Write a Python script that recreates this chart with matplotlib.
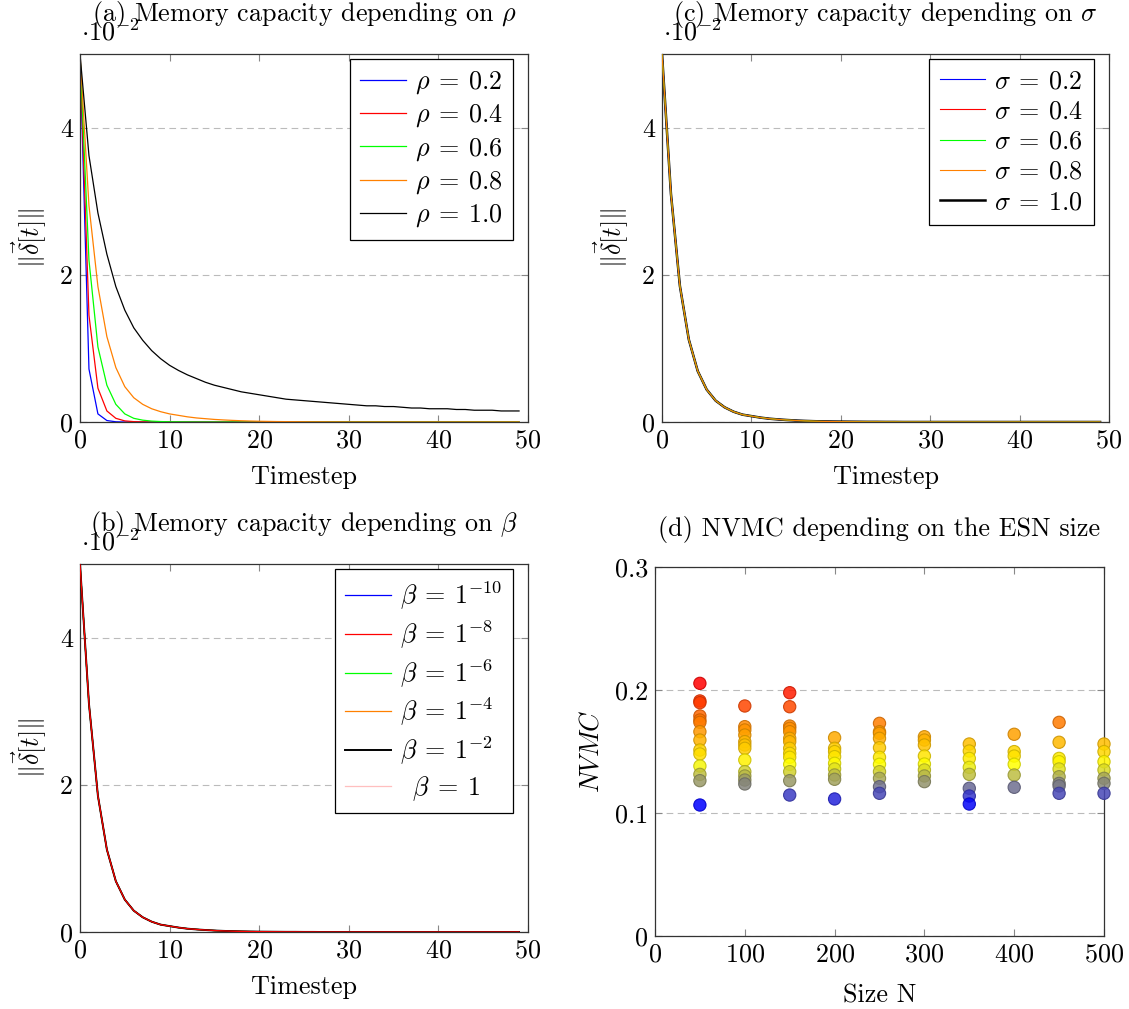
import matplotlib
matplotlib.use("Agg")
import matplotlib.pyplot as plt
import numpy as np
from matplotlib.colors import LinearSegmentedColormap

# ---------------- data ----------------
timesteps = list(range(50))

rho_02 = [0.05, 0.0072, 0.0011, 0.0002, 0.00003, 0.0, 0.0, 0.0, 0.0, 0.0,
          0.0, 0.0, 0.0, 0.0, 0.0, 0.0, 0.0, 0.0, 0.0, 0.0,
          0.0, 0.0, 0.0, 0.0, 0.0, 0.0, 0.0, 0.0, 0.0, 0.0,
          0.0, 0.0, 0.0, 0.0, 0.0, 0.0, 0.0, 0.0, 0.0, 0.0,
          0.0, 0.0, 0.0, 0.0, 0.0, 0.0, 0.0, 0.0, 0.0, 0.0]
rho_04 = [0.05, 0.0145, 0.0046, 0.0015, 0.0005, 0.00015, 0.00005, 0.00002, 0.0, 0.0,
          0.0, 0.0, 0.0, 0.0, 0.0, 0.0, 0.0, 0.0, 0.0, 0.0,
          0.0, 0.0, 0.0, 0.0, 0.0, 0.0, 0.0, 0.0, 0.0, 0.0,
          0.0, 0.0, 0.0, 0.0, 0.0, 0.0, 0.0, 0.0, 0.0, 0.0,
          0.0, 0.0, 0.0, 0.0, 0.0, 0.0, 0.0, 0.0, 0.0, 0.0]
rho_06 = [0.05, 0.0220, 0.0102, 0.0050, 0.0024, 0.0011, 0.0005, 0.00025, 0.00012, 0.00006,
          0.00003, 0.00002, 0.00001, 0.0, 0.0, 0.0, 0.0, 0.0, 0.0, 0.0,
          0.0, 0.0, 0.0, 0.0, 0.0, 0.0, 0.0, 0.0, 0.0, 0.0,
          0.0, 0.0, 0.0, 0.0, 0.0, 0.0, 0.0, 0.0, 0.0, 0.0,
          0.0, 0.0, 0.0, 0.0, 0.0, 0.0, 0.0, 0.0, 0.0, 0.0]
rho_08 = [0.05, 0.0294, 0.0184, 0.0116, 0.0074, 0.0048, 0.0033, 0.0024, 0.0018, 0.0014,
          0.0011, 0.0009, 0.0007, 0.00055, 0.00045, 0.00035, 0.00028, 0.00022, 0.00017, 0.00013,
          0.0001, 0.00008, 0.00006, 0.00005, 0.00004, 0.00003, 0.00002, 0.00002, 0.00001, 0.00001,
          0.0, 0.0, 0.0, 0.0, 0.0, 0.0, 0.0, 0.0, 0.0, 0.0,
          0.0, 0.0, 0.0, 0.0, 0.0, 0.0, 0.0, 0.0, 0.0, 0.0]
rho_10 = [0.05, 0.0362, 0.0284, 0.0228, 0.0184, 0.0152, 0.0128, 0.0111, 0.0097, 0.0086,
          0.0077, 0.0070, 0.0064, 0.0059, 0.0054, 0.0050, 0.0047, 0.0044, 0.0041, 0.0039,
          0.0037, 0.0035, 0.0033, 0.0031, 0.0030, 0.0029, 0.0028, 0.0027, 0.0026, 0.0025,
          0.0024, 0.0023, 0.0022, 0.0022, 0.0021, 0.0021, 0.0020, 0.0019, 0.0019, 0.0018,
          0.0018, 0.0018, 0.0017, 0.0017, 0.0016, 0.0016, 0.0016, 0.0015, 0.0015, 0.0015]

# sigma curves (all nearly identical in the reference)
sigma_curve = [0.05, 0.0310, 0.0185, 0.0112, 0.0069, 0.0044, 0.0029, 0.0020, 0.0014, 0.0010,
               0.0008, 0.0006, 0.00045, 0.00035, 0.00027, 0.0002, 0.00015, 0.00011, 0.00008, 0.00006,
               0.00005, 0.00004, 0.00003, 0.00002, 0.00002, 0.00001, 0.00001, 0.0, 0.0, 0.0,
               0.0, 0.0, 0.0, 0.0, 0.0, 0.0, 0.0, 0.0, 0.0, 0.0,
               0.0, 0.0, 0.0, 0.0, 0.0, 0.0, 0.0, 0.0, 0.0, 0.0]
# beta curves (all nearly identical in the reference)
beta_curve = [0.05, 0.0310, 0.0185, 0.0112, 0.0069, 0.0044, 0.0029, 0.0020, 0.0014, 0.0010,
              0.0008, 0.0006, 0.00045, 0.00035, 0.00027, 0.0002, 0.00015, 0.00011, 0.00008, 0.00006,
              0.00005, 0.00004, 0.00003, 0.00002, 0.00002, 0.00001, 0.00001, 0.0, 0.0, 0.0,
              0.0, 0.0, 0.0, 0.0, 0.0, 0.0, 0.0, 0.0, 0.0, 0.0,
              0.0, 0.0, 0.0, 0.0, 0.0, 0.0, 0.0, 0.0, 0.0, 0.0]

rho_labels = [r'$\rho\:=\:0.2$', r'$\rho\:=\:0.4$', r'$\rho\:=\:0.6$', r'$\rho\:=\:0.8$', r'$\rho\:=\:1.0$']
sigma_labels = [r'$\sigma\:=\:0.2$', r'$\sigma\:=\:0.4$', r'$\sigma\:=\:0.6$', r'$\sigma\:=\:0.8$',
                r'$\sigma\:=\:1.0$']
beta_labels = [r'$\beta\:=\:1^{-10}$', r'$\beta\:=\:1^{-8}$', r'$\beta\:=\:1^{-6}$',
               r'$\beta\:=\:1^{-4}$', r'$\beta\:=\:1^{-2}$', r'$\;\;\beta\:=\:1$']

# NVMC scatter: size N and values
size_n = ([50] * 14 + [100] * 12 + [150] * 14 + [200] * 9 + [250] * 11 +
          [300] * 8 + [350] * 8 + [400] * 6 + [450] * 9 + [500] * 7)
nvmc = [
    # N=50
    0.2054, 0.1911, 0.1897, 0.1789, 0.1756, 0.1737, 0.1661, 0.1593, 0.1512, 0.1480, 0.1382, 0.1314, 0.1263, 0.1065,
    # N=100
    0.1870, 0.1702, 0.1675, 0.1634, 0.1580, 0.1553, 0.1526, 0.1431, 0.1336, 0.1301, 0.1268, 0.1236,
    # N=150
    0.1978, 0.1864, 0.1707, 0.1688, 0.1661, 0.1607, 0.1580, 0.1526, 0.1485, 0.1453, 0.1396, 0.1336, 0.1263, 0.1146,
    # N=200
    0.1612, 0.1526, 0.1499, 0.1458, 0.1404, 0.1358, 0.1309, 0.1274, 0.1114,
    # N=250
    0.1729, 0.1661, 0.1648, 0.1607, 0.1531, 0.1453, 0.1396, 0.1336, 0.1282, 0.1214, 0.1160,
    # N=300
    0.1620, 0.1593, 0.1553, 0.1463, 0.1398, 0.1350, 0.1301, 0.1255,
    # N=350
    0.1561, 0.1504, 0.1444, 0.1371, 0.1314, 0.1201, 0.1138, 0.1073,
    # N=400
    0.1640, 0.1499, 0.1463, 0.1396, 0.1309, 0.1209,
    # N=450
    0.1737, 0.1575, 0.1444, 0.1417, 0.1358, 0.1295, 0.1241, 0.1220, 0.1160,
    # N=500
    0.1561, 0.1499, 0.1417, 0.1350, 0.1282, 0.1241, 0.1160,
]

# ---------------- style ----------------
plt.rcParams['font.family'] = ['cmr10', 'DejaVu Serif']
plt.rcParams['mathtext.fontset'] = 'cm'
plt.rcParams['axes.formatter.use_mathtext'] = True
plt.rcParams['axes.unicode_minus'] = False
FS = 18.8

W, H = 1129, 1009
fig = plt.figure(figsize=(W / 100, H / 100), dpi=100)


def px_axes(left, right, top, bottom):
    return fig.add_axes([left / W, 1 - bottom / H, (right - left) / W, (bottom - top) / H])


def style_axes(ax):
    for s in ax.spines.values():
        s.set_color('#333333')
        s.set_linewidth(0.9)
    ax.tick_params(direction='in', length=5, width=0.8, color='#888888',
                   top=True, right=True, labelsize=FS, pad=5)
    ax.yaxis.grid(True, linestyle=(0, (6, 4)), color='#bbbbbb', linewidth=0.8)
    ax.set_axisbelow(True)


line_colors = ['#0000ff', '#ff0000', '#00ff00', '#ff8000', '#000000']
beta_colors = ['#0000ff', '#ff0000', '#00ff00', '#ff8000', '#000000', '#ffbfbf']


def delta_panel(ax, series, labels, colors, title, zorders=None, widths=None):
    for i, (ys, lab, c) in enumerate(zip(series, labels, colors)):
        z = 2 if zorders is None else zorders[i]
        w = 0.9 if widths is None else widths[i]
        ax.plot(timesteps, ys, color=c, lw=w, label=lab, zorder=z)
    ax.set_xlim(0, 50)
    ax.set_ylim(0, 0.05)
    ax.set_xticks([0, 10, 20, 30, 40, 50])
    ax.set_yticks([0, 0.02, 0.04])
    ax.set_yticklabels(['0', '2', '4'])
    style_axes(ax)
    ax.set_xlabel('Timestep', fontsize=FS, labelpad=9)
    ax.set_ylabel(r'$\|\vec{\delta}[t]\|$', fontsize=FS, labelpad=8)
    ax.set_title(title, fontsize=FS, pad=23.5)
    ax.annotate(r'$\cdot 10^{-2}$', xy=(0.0, 1.0), xycoords='axes fraction',
                xytext=(1, 6), textcoords='offset points', fontsize=FS,
                ha='left', va='bottom')
    leg = ax.legend(loc='upper right', bbox_to_anchor=(1 - 15 / 448, 1 - 5 / 368),
                    fontsize=FS, frameon=True, fancybox=False,
                    edgecolor='black', framealpha=1, handlelength=1.75,
                    borderaxespad=0.0, labelspacing=0.25, handletextpad=0.35,
                    borderpad=0.4)
    leg.get_frame().set_linewidth(0.9)


ax_a = px_axes(80, 528, 54, 422)
delta_panel(ax_a, [rho_02, rho_04, rho_06, rho_08, rho_10], rho_labels, line_colors,
            r'(a) Memory capacity depending on $\rho$')

ax_c = px_axes(662, 1109, 54, 422)
delta_panel(ax_c, [sigma_curve] * 5, sigma_labels, line_colors,
            r'(c) Memory capacity depending on $\sigma$',
            zorders=[3, 3, 3, 3, 2], widths=[0.8, 0.8, 0.8, 0.8, 1.8])

ax_b = px_axes(80, 528, 564, 932)
delta_panel(ax_b, [beta_curve] * 6, beta_labels, beta_colors,
            r'(b) Memory capacity depending on $\beta$',
            zorders=[2, 6, 3, 4, 5, 2], widths=[0.9, 0.9, 0.9, 0.9, 1.4, 0.9])

# ---------------- scatter (d) ----------------
ax_d = px_axes(655, 1104, 567, 936)
cmap = LinearSegmentedColormap.from_list('byor', [(0, 0, 1), (1, 1, 0), (1, 0.5, 0), (1, 0, 0)])
vmin, vmax = min(nvmc), max(nvmc)
norm = plt.Normalize(vmin, vmax)
base = [cmap(norm(v)) for v in nvmc]
edge = [tuple(np.array(c[:3]) * 0.8) + (0.9,) for c in base]
face = [tuple(c[:3]) + (0.85,) for c in base]
ax_d.scatter(size_n, nvmc, s=78, c=face, edgecolors=edge, linewidths=0.8,
             clip_on=False, zorder=3)
ax_d.set_xlim(0, 500)
ax_d.set_ylim(0, 0.3)
ax_d.set_xticks([0, 100, 200, 300, 400, 500])
ax_d.set_yticks([0, 0.1, 0.2, 0.3])
ax_d.set_yticklabels(['0', '0.1', '0.2', '0.3'])
style_axes(ax_d)
ax_d.set_xlabel('Size N', fontsize=FS, labelpad=12)
ax_d.set_ylabel(r'$NVMC$', fontsize=FS, labelpad=8)
ax_d.set_title('(d) NVMC depending on the ESN size', fontsize=FS, pad=22)

fig.savefig('out.png', dpi=100)
